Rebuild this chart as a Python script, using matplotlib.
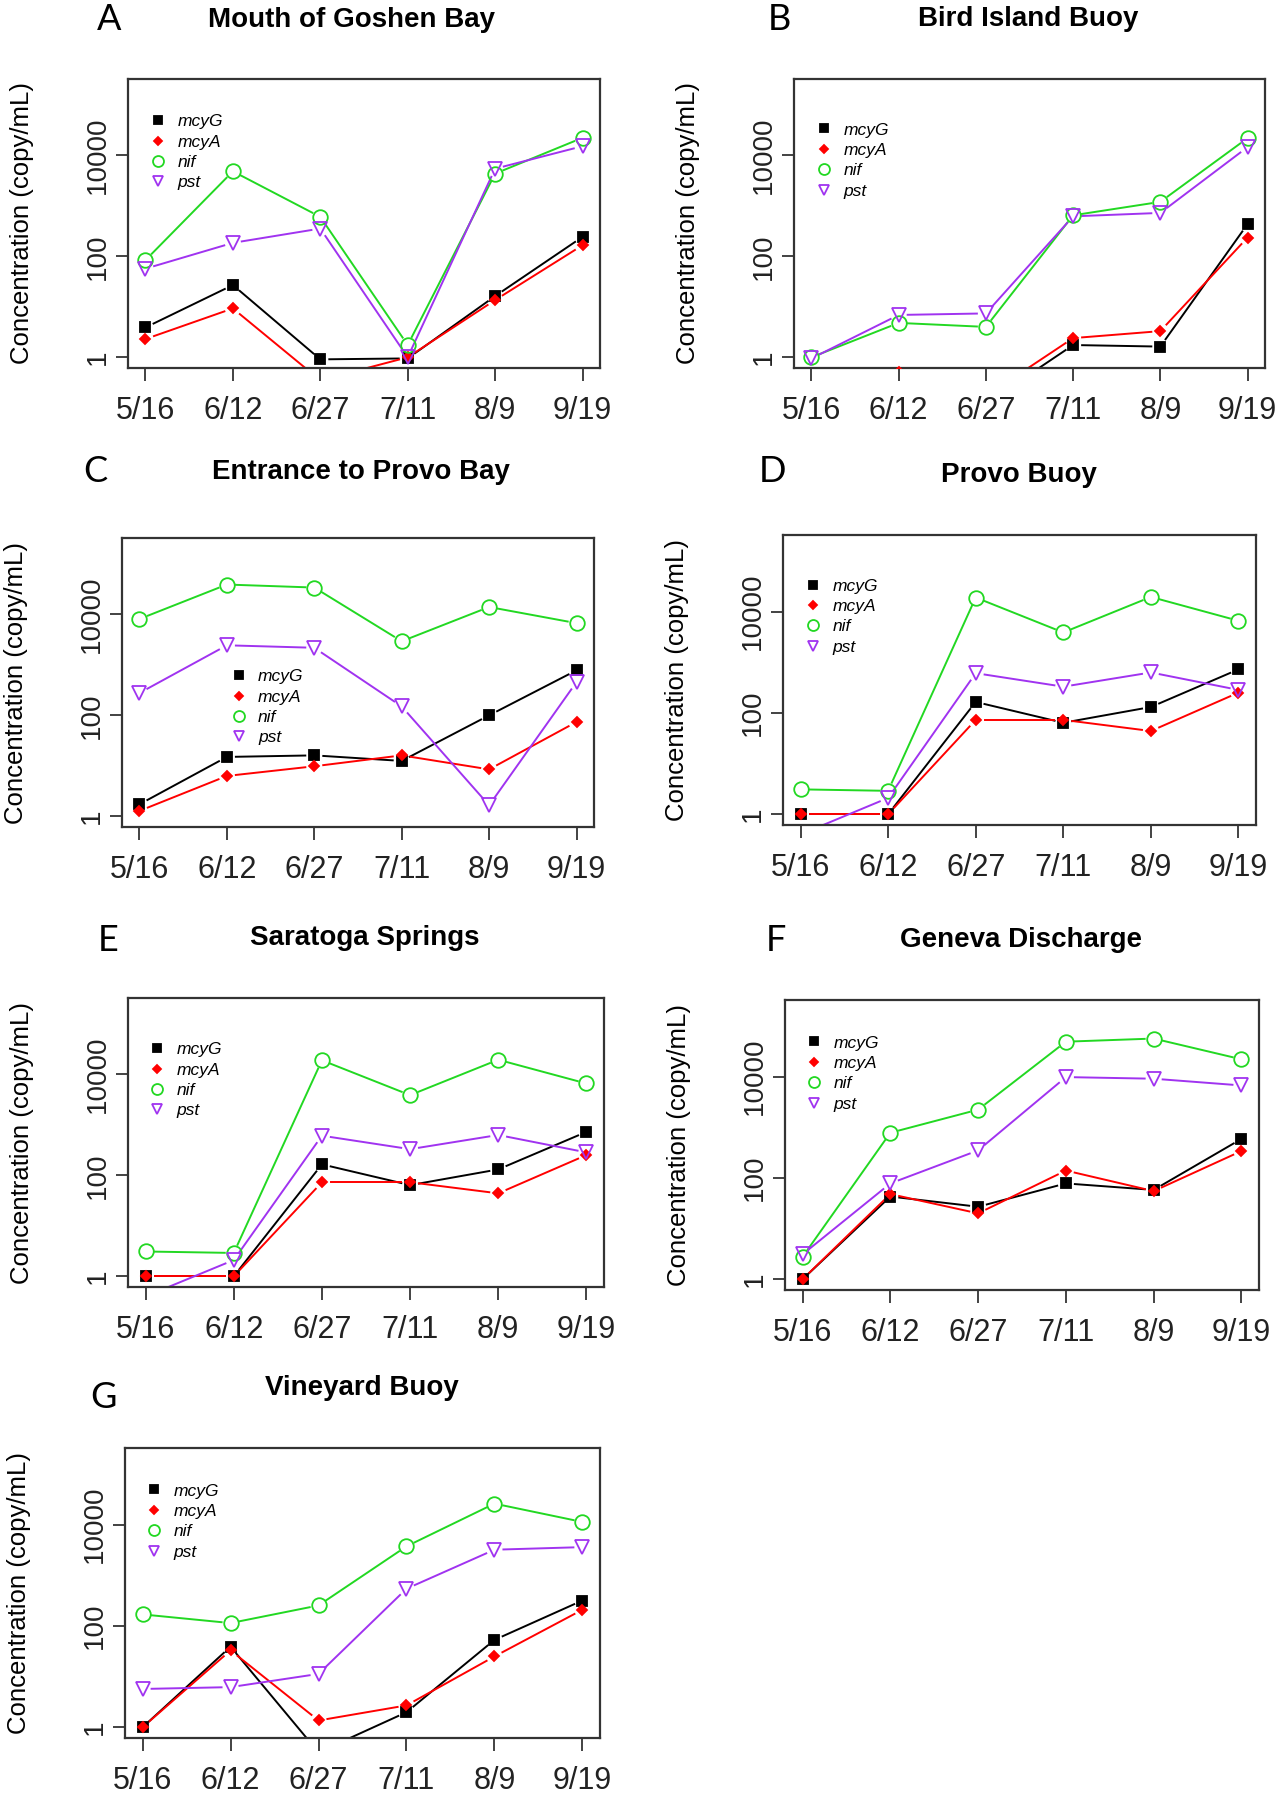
import numpy as np
import matplotlib
matplotlib.use("Agg")
import matplotlib.pyplot as plt
from matplotlib.ticker import FixedLocator, NullLocator

# sampling dates
dates = ["5/16", "6/12", "6/27", "7/11", "8/9", "9/19"]
genes = ["mcyG", "mcyA", "nif", "pst"]

# A - Mouth of Goshen Bay
goshen_mcyG = [3.9, 27, 0.91, 0.95, 16.3, 243]
goshen_mcyA = [2.3, 9.3, 0.35, 1.0, 13.6, 166]
goshen_nif = [84, 4830, 605, 1.75, 4350, 22300]
goshen_pst = [57, 185, 355, 1.0, 5450, 15200]

# B - Bird Island Buoy
bird_mcyG = [0.12, 0.12, 0.12, 1.75, 1.63, 435]
bird_mcyA = [0.2, 0.52, 0.17, 2.4, 3.3, 236]
bird_nif = [1.0, 4.8, 4.0, 650, 1200, 22000]
bird_pst = [0.95, 6.9, 7.4, 620, 725, 14600]

# C - Entrance to Provo Bay
entrance_mcyG = [1.73, 15, 16.1, 12.5, 100, 780]
entrance_mcyA = [1.28, 6.3, 9.8, 16.1, 8.5, 74]
entrance_nif = [8100, 39000, 34000, 2930, 14000, 6700]
entrance_pst = [277, 2440, 2180, 150, 1.65, 457]

# D - Provo Buoy
provo_mcyG = [1.0, 1.0, 165, 64, 131, 725]
provo_mcyA = [1.0, 1.0, 73, 73, 44, 252]
provo_nif = [3.1, 2.9, 19000, 3880, 19500, 6600]
provo_pst = [0.4, 2.1, 610, 330, 630, 285]

# E - Saratoga Springs
saratoga_mcyG = [1.0, 1.0, 165, 64, 131, 725]
saratoga_mcyA = [1.0, 1.0, 73, 73, 44, 252]
saratoga_nif = [3.1, 2.9, 19000, 3880, 19500, 6600]
saratoga_pst = [0.4, 2.1, 610, 330, 630, 285]

# F - Geneva Discharge
geneva_mcyG = [1.0, 43, 27, 78, 58, 590]
geneva_mcyA = [1.0, 48, 20, 140, 55, 340]
geneva_nif = [2.77, 780, 2230, 49000, 56500, 22000]
geneva_pst = [3.1, 78, 350, 9800, 9100, 6700]

# G - Vineyard Buoy
vineyard_mcyG = [1.0, 39, 0.32, 1.98, 53, 318]
vineyard_mcyA = [1.0, 33, 1.36, 2.7, 25, 209]
vineyard_nif = [169, 114, 254, 3730, 26000, 11300]
vineyard_pst = [5.7, 6.2, 11.3, 543, 3200, 3600]

letters = ["A", "B", "C", "D", "E", "F", "G"]
titles = ["Mouth of Goshen Bay", "Bird Island Buoy", "Entrance to Provo Bay",
          "Provo Buoy", "Saratoga Springs", "Geneva Discharge", "Vineyard Buoy"]
site_data = [
    [goshen_mcyG, goshen_mcyA, goshen_nif, goshen_pst],
    [bird_mcyG, bird_mcyA, bird_nif, bird_pst],
    [entrance_mcyG, entrance_mcyA, entrance_nif, entrance_pst],
    [provo_mcyG, provo_mcyA, provo_nif, provo_pst],
    [saratoga_mcyG, saratoga_mcyA, saratoga_nif, saratoga_pst],
    [geneva_mcyG, geneva_mcyA, geneva_nif, geneva_pst],
    [vineyard_mcyG, vineyard_mcyA, vineyard_nif, vineyard_pst],
]

# layout in pixels: box (left, top, right, bottom), title pos, letter pos, legend anchor
W, H = 1283, 1800
boxes = [(128, 79, 600, 368), (794, 79, 1265, 368),
         (122, 538, 594, 827), (783, 535, 1256, 825),
         (128, 998, 604, 1287), (785, 1000, 1259, 1290),
         (125, 1448, 600, 1738)]
title_pos = [(352, 20), (1028, 19), (361, 472), (1019, 475),
             (365, 938), (1021, 940), (362, 1388)]
letter_pos = [(109, 20), (779, 20), (95, 472), (773, 472),
              (108, 940), (776, 940), (103, 1398)]
legend_pos = [(0.072, 0.838), (0.072, 0.81), (0.256, 0.506), (0.072, 0.81),
              (0.07, 0.807), (0.07, 0.838), (0.07, 0.838)]

colors = ["black", "#ff0000", "#22d822", "#a033f0"]
markers = ["s", "D", "o", "v"]
msizes = [7.5, 5, 10.5, 10.5]
filled = [True, True, False, False]

plt.rcParams["font.family"] = ["Liberation Sans", "DejaVu Sans"]

fig = plt.figure(figsize=(W / 100, H / 100), dpi=100)

x = np.arange(1, 7)
# R style y range: c(1, 2e5) padded by 4% on log scale
lo, hi = np.log10(1), np.log10(2e5)
pad = 0.04 * (hi - lo)
ylim = (10 ** (lo - pad), 10 ** (hi + pad))


def gapped_line(ax, xs, ys, color, gap=9):
    # type="b": segments stop short of the points
    pts = ax.transData.transform(np.column_stack([xs, ys]))
    inv = ax.transData.inverted()
    for i in range(len(pts) - 1):
        p0, p1 = pts[i], pts[i + 1]
        d = p1 - p0
        L = np.hypot(d[0], d[1])
        if L <= 2 * gap:
            continue
        u = d / L
        seg = inv.transform(np.array([p0 + u * gap, p1 - u * gap]))
        ax.plot(seg[:, 0], seg[:, 1], color=color, lw=1.4, zorder=2)


for k in range(7):
    l, t, r, b = boxes[k]
    ax = fig.add_axes([l / W, 1 - b / H, (r - l) / W, (b - t) / H])
    ax.set_yscale("log")
    ax.set_xlim(0.8, 6.2)
    ax.set_ylim(*ylim)
    ax.set_autoscale_on(False)

    for g in range(4):
        vals = site_data[k][g]
        gapped_line(ax, x, vals, colors[g])
        ax.plot(x, vals, linestyle="none", marker=markers[g], ms=msizes[g],
                color=colors[g], mfc=colors[g] if filled[g] else "none",
                mew=1.3, label=genes[g], zorder=3)

    ax.xaxis.set_major_locator(FixedLocator(x))
    ax.set_xticklabels(dates, fontsize=22)
    ax.yaxis.set_major_locator(FixedLocator([1, 100, 10000]))
    ax.yaxis.set_minor_locator(NullLocator())
    ax.set_yticklabels(["1", "100", "10000"], fontsize=20, rotation=90, va="center")
    ax.tick_params(axis="x", length=9, width=1.2, pad=11, colors="#222222")
    ax.tick_params(axis="y", length=9, width=1.2, pad=3, colors="#222222")
    for s in ax.spines.values():
        s.set_linewidth(1.6)
        s.set_color("#333333")

    ax.text(-106 / (r - l), 0.5, "Concentration (copy/mL)", rotation=90,
            ha="center", va="center", fontsize=18.5, transform=ax.transAxes)

    lx, ly = legend_pos[k]
    leg = ax.legend(loc="upper left", bbox_to_anchor=(lx - 0.03, ly + 0.04),
                    frameon=False, fontsize=12.5, handlelength=1.2,
                    handletextpad=0.5, labelspacing=0.3, borderpad=0,
                    borderaxespad=0, markerscale=0.75)
    for txt in leg.get_texts():
        txt.set_fontstyle("italic")

    tx, ty = title_pos[k]
    fig.text(tx / W, 1 - ty / H, titles[k], ha="center", va="center",
             fontsize=20, fontweight="bold")
    cx, cy = letter_pos[k]
    fig.text(cx / W, 1 - cy / H, letters[k], ha="center", va="center",
             fontsize=26, family=["Lato", "DejaVu Sans"])

fig.savefig("out.png", dpi=100, facecolor="white")
